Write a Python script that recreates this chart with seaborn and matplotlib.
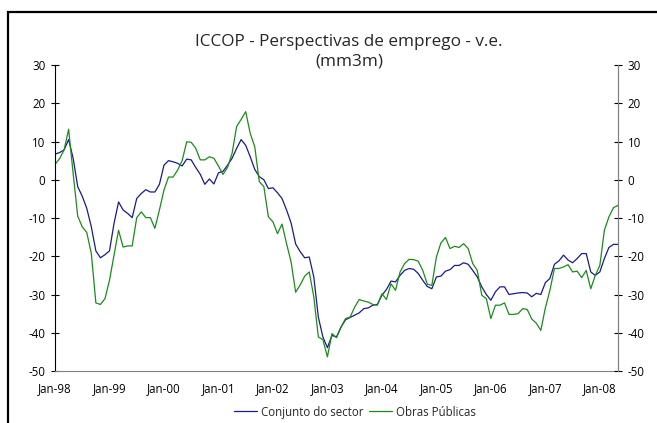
import numpy as np
import pandas as pd
import matplotlib
matplotlib.use("Agg")
import matplotlib.pyplot as plt
import seaborn as sns
from matplotlib.lines import Line2D
from matplotlib.patches import Rectangle

title_text = "ICCOP - Perspectivas de emprego - v.e.\n(mm3m)"
series_names = ["Conjunto do sector", "Obras Públicas"]
tick_labels = ["Jan-98", "Jan-99", "Jan-00", "Jan-01", "Jan-02", "Jan-03",
               "Jan-04", "Jan-05", "Jan-06", "Jan-07", "Jan-08"]
y_ticks = [-50, -40, -30, -20, -10, 0, 10, 20, 30]

conjunto = [
    6.7, 7.1, 7.8, 10.5, 5.6, -1.8, -4.3, -7.5, -12.3, -18.6, -20.4, -19.6,
    -18.6, -11.4, -5.8, -7.9, -8.8, -9.9, -4.9, -3.6, -2.6, -3.2, -3.2, -1.2,
    3.8, 5.0, 4.7, 4.3, 3.6, 5.4, 5.2, 3.2, 1.4, -1.2, 0.2, -1.1,
    1.8, 2.2, 3.8, 5.6, 8.2, 10.5, 9.0, 6.0, 2.7, 0.8, 0.0, -2.3,
    -2.1, -3.4, -4.9, -7.9, -11.3, -16.8, -18.8, -20.4, -20.2, -25.4, -35.9, -41.1,
    -43.9, -40.7, -41.1, -38.5, -36.6, -36.0, -35.4, -34.8, -33.7, -33.5, -32.8, -32.6,
    -30.2, -28.7, -26.5, -26.7, -25.0, -23.7, -23.2, -23.4, -24.5, -26.3, -27.9, -28.5,
    -25.4, -25.2, -23.9, -23.5, -22.4, -22.4, -21.7, -22.1, -23.7, -25.4, -28.0, -30.0,
    -31.5, -29.3, -28.0, -28.0, -30.0, -29.8, -29.6, -29.5, -29.6, -30.6, -29.7, -30.0,
    -26.9, -25.8, -22.1, -21.2, -19.7, -21.0, -21.7, -20.6, -19.3, -19.3, -24.1, -25.0,
    -24.1, -20.6, -17.7, -16.9, -16.9,
]
obras = [
    4.0, 5.5, 7.8, 13.2, 1.6, -9.5, -12.3, -13.8, -19.3, -32.2, -32.6, -31.1,
    -26.3, -19.7, -13.2, -17.6, -17.3, -17.3, -9.9, -8.4, -9.9, -9.9, -12.7, -7.9,
    -2.7, 0.7, 0.7, 2.5, 5.0, 9.9, 9.8, 8.2, 5.2, 5.2, 6.0, 5.6,
    3.6, 1.4, 3.2, 6.9, 13.9, 15.8, 17.8, 12.1, 8.6, -0.5, -1.8, -9.7,
    -11.0, -14.1, -11.6, -16.7, -21.5, -29.4, -27.5, -25.2, -24.1, -30.6, -41.1, -41.8,
    -46.3, -40.2, -41.3, -38.5, -36.3, -35.9, -33.3, -31.3, -31.7, -32.0, -32.6, -32.8,
    -29.8, -31.3, -27.2, -28.9, -24.1, -21.9, -20.8, -20.9, -21.3, -23.7, -27.3, -27.6,
    -20.2, -16.5, -15.1, -18.0, -17.4, -17.7, -16.7, -18.0, -21.9, -23.7, -30.2, -31.1,
    -36.3, -32.8, -32.8, -32.2, -35.2, -35.2, -35.0, -33.7, -33.9, -36.4, -37.5, -39.4,
    -33.5, -28.9, -23.2, -23.2, -22.8, -22.2, -24.1, -23.9, -25.6, -23.7, -28.5, -25.0,
    -22.4, -13.2, -9.7, -7.3, -6.7,
]

months = np.arange(len(conjunto))
df = pd.DataFrame({
    "month": np.concatenate([months, months]),
    "value": conjunto + obras,
    "series": [series_names[0]] * len(conjunto) + [series_names[1]] * len(obras),
})

sns.set_theme(style="white")
plt.rcParams["font.family"] = ["Open Sans", "DejaVu Sans"]

colors = {series_names[0]: "#1a1a8c", series_names[1]: "#1a8c1a"}
fs = 8.3

fig = plt.figure(figsize=(6.57, 4.23), dpi=100)
ax = fig.add_axes([55 / 657, 1 - 371 / 423, (618 - 55) / 657, (371 - 65) / 423])

sns.lineplot(data=df, x="month", y="value", hue="series", palette=colors,
             linewidth=0.9, ax=ax, legend=False)

ax.set_xlim(0, len(conjunto) - 1)
ax.set_ylim(-50, 30)
ax.set_xticks(np.arange(0, 12 * len(tick_labels), 12))
ax.set_xticklabels(tick_labels)
ax.set_yticks(y_ticks)
ax.set_yticklabels([str(v) for v in y_ticks])
ax.set_xlabel("")
ax.set_ylabel("")

ax.spines["top"].set_visible(False)
for side in ["left", "bottom", "right"]:
    ax.spines[side].set_visible(True)
    ax.spines[side].set_linewidth(0.8)
ax.spines["left"].set_color("#000000")
ax.spines["right"].set_color("#808080")
ax.spines["bottom"].set_color("#808080")

ax.tick_params(axis="both", which="both", direction="inout", length=6, width=0.8,
               colors="#000000", labelsize=fs, labelcolor="#000000")
ax.tick_params(axis="x", pad=5)
ax.tick_params(axis="y", pad=4)

ax2 = ax.twinx()
ax2.set_ylim(-50, 30)
ax2.set_yticks(y_ticks)
ax2.set_yticklabels([str(v) for v in y_ticks])
for side in ["top", "left", "bottom"]:
    ax2.spines[side].set_visible(False)
ax2.spines["right"].set_color("#808080")
ax2.spines["right"].set_linewidth(0.8)
ax2.tick_params(axis="y", direction="inout", length=6, width=0.8, colors="#000000",
                labelsize=fs, pad=4)
ax2.grid(False)
ax.grid(False)

fig.text(349 / 657, 1 - 52 / 423, title_text, ha="center", va="center",
         fontsize=12.3, linespacing=1.3)

handles = [Line2D([0], [0], color=colors[n], lw=0.9) for n in series_names]
fig.legend(handles, series_names, loc="center", bbox_to_anchor=(355 / 657, 1 - 412 / 423),
           ncol=2, frameon=False, fontsize=fs, handlelength=2.0, handletextpad=0.3,
           columnspacing=0.5, borderpad=0)

fig.patches.append(Rectangle((8 / 657, -0.05), 1.2, 1 - 12 / 423 + 0.05,
                             transform=fig.transFigure, fill=False,
                             edgecolor="#000000", linewidth=1.6))

fig.savefig("out.png", dpi=100)
